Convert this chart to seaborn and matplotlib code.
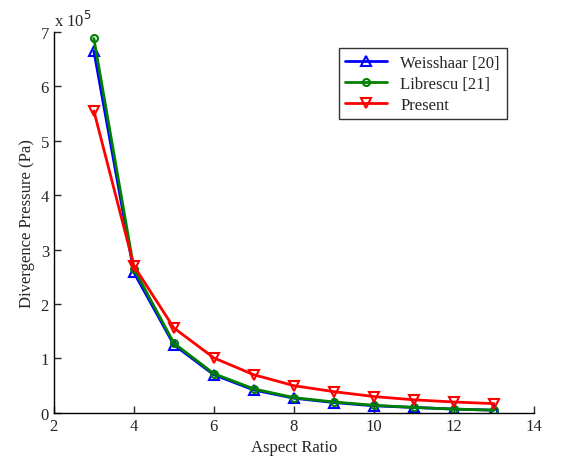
import numpy as np
import pandas as pd
import matplotlib
matplotlib.use("Agg")
import matplotlib.pyplot as plt
import seaborn as sns

aspect_ratio = [3, 4, 5, 6, 7, 8, 9, 10, 11, 12, 13]
weisshaar = [6.65, 2.58, 1.25, 0.70, 0.42, 0.27, 0.19, 0.13, 0.10, 0.07, 0.05]
librescu = [6.88, 2.65, 1.28, 0.72, 0.44, 0.28, 0.20, 0.14, 0.10, 0.07, 0.05]
present = [5.55, 2.70, 1.56, 1.01, 0.70, 0.50, 0.39, 0.30, 0.24, 0.20, 0.17]
labels = ["Weisshaar [20]", "Librescu [21]", "Present"]

sns.set_style("white")
plt.rcParams['font.family'] = ['Liberation Serif', 'DejaVu Serif']

df = pd.DataFrame({
    "Aspect Ratio": aspect_ratio * 3,
    "Pressure": weisshaar + librescu + present,
    "Series": [labels[0]] * 11 + [labels[1]] * 11 + [labels[2]] * 11,
})

fig = plt.figure(figsize=(5.61, 4.64), dpi=100)
ax = fig.add_axes([0.096, 0.108, 0.856, 0.821])

palette = {labels[0]: "#0000ff", labels[1]: "#008000", labels[2]: "#ff0000"}
markers = {labels[0]: "^", labels[1]: "o", labels[2]: "v"}
sns.lineplot(data=df, x="Aspect Ratio", y="Pressure", hue="Series", style="Series",
             palette=palette, markers=markers, dashes=False, linewidth=2,
             markersize=7, markerfacecolor="none", markeredgewidth=1.5, ax=ax,
             legend=False)
data_lines = list(ax.lines)
for line, lab in zip(data_lines, labels):
    line.set_markeredgecolor(palette[lab])
    line.set_markerfacecolor("none")
    line.set_label(lab)
data_lines[1].set_markersize(5)

ax.set_xlim(2, 14)
ax.set_ylim(0, 7)
ax.set_xticks([2, 4, 6, 8, 10, 12, 14])
ax.set_yticks(range(0, 8))
ax.set_xlabel("Aspect Ratio", fontsize=12)
ax.set_ylabel("Divergence Pressure (Pa)", fontsize=12)
ax.tick_params(axis="both", labelsize=12, direction="in", length=5, width=1, left=True, bottom=True)
for s in ["top", "right"]:
    ax.spines[s].set_visible(False)
for s in ["left", "bottom"]:
    ax.spines[s].set_color("black")
    ax.spines[s].set_linewidth(1)
ax.text(0.0, 1.005, r"x 10$^{5}$", transform=ax.transAxes, fontsize=12, ha="left", va="bottom")

leg = ax.legend(handles=data_lines, labels=labels, loc="upper right", bbox_to_anchor=(0.96, 0.98),
                fontsize=12, frameon=True, fancybox=False, edgecolor="black",
                handlelength=2.5, borderpad=0.4, labelspacing=0.3)
leg.get_frame().set_linewidth(1)

fig.savefig("out.png", dpi=100)
